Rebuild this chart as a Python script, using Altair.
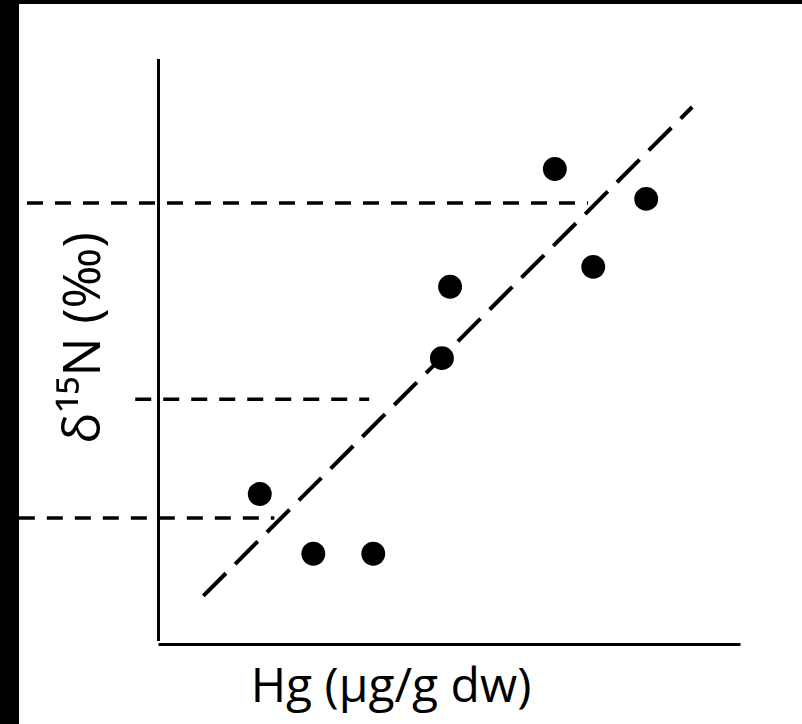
import altair as alt
import pandas as pd

# Data (arbitrary units)
HG = [6.81, 8.38, 7.47, 5.01, 4.87, 1.74, 2.66, 3.69]
D15N = [8.12, 7.61, 6.45, 6.11, 4.89, 2.57, 1.55, 1.55]

# Regression line end points
FIT_X = [0.77, 9.17]
FIT_Y = [0.83, 9.18]

# Horizontal reference dashed lines
REF_Y = [7.54, 4.19, 2.16]
REF_X0 = [-2.26, -0.40, -2.40]
REF_X1 = [7.38, 3.62, 1.99]

# Axis extents
XAXIS = [0.0, 10.0]
YAXIS = [0.06, 10.0]

X_TITLE = "Hg (µg/g dw)"
Y_TITLE = "δ¹⁵N (‰)"

xs = alt.Scale(domain=[-2.397, 11.057], nice=False, zero=False)
ys = alt.Scale(domain=[-1.358, 10.939], nice=False, zero=False)

pts = pd.DataFrame({"hg": HG, "n": D15N})
fit = pd.DataFrame({"x": [FIT_X[0]], "x2": [FIT_X[1]], "y": [FIT_Y[0]], "y2": [FIT_Y[1]]})
refs = pd.DataFrame({"y": REF_Y, "x": REF_X0, "x2": REF_X1})
xax = pd.DataFrame({"x": [XAXIS[0]], "x2": [XAXIS[1]], "y": [0.0]})
yax = pd.DataFrame({"y": [YAXIS[0]], "y2": [YAXIS[1]], "x": [0.0]})

x_axis = alt.Chart(xax).mark_rule(color="black", strokeWidth=3).encode(
    x=alt.X("x:Q", scale=xs, axis=None), x2="x2:Q", y=alt.Y("y:Q", scale=ys, axis=None)
)
y_axis = alt.Chart(yax).mark_rule(color="black", strokeWidth=3).encode(
    x=alt.X("x:Q", scale=xs, axis=None), y=alt.Y("y:Q", scale=ys, axis=None), y2="y2:Q"
)
ref_lines = alt.Chart(refs).mark_rule(color="black", strokeWidth=3.5, strokeDash=[16, 12]).encode(
    x=alt.X("x:Q", scale=xs, axis=None), x2="x2:Q", y=alt.Y("y:Q", scale=ys, axis=None)
)
fit_line = alt.Chart(fit).mark_rule(color="black", strokeWidth=4, strokeDash=[32, 13]).encode(
    x=alt.X("x:Q", scale=xs, axis=None), x2="x2:Q",
    y=alt.Y("y:Q", scale=ys, axis=None), y2="y2:Q"
)
points = alt.Chart(pts).mark_circle(color="black", opacity=1, size=570).encode(
    x=alt.X("hg:Q", scale=xs, axis=None), y=alt.Y("n:Q", scale=ys, axis=None)
)
xt = alt.Chart(pd.DataFrame({"t": [X_TITLE]})).mark_text(
    font="Open Sans", fontSize=48, color="black", align="center", baseline="alphabetic"
).encode(text="t:N", x=alt.value(372), y=alt.value(698))
yt = alt.Chart(pd.DataFrame({"t": [Y_TITLE]})).mark_text(
    font="Open Sans", fontSize=52, color="black", align="center", baseline="alphabetic", angle=270
).encode(text="t:N", x=alt.value(81), y=alt.value(334))

chart = alt.layer(x_axis, y_axis, ref_lines, fit_line, points, xt, yt).properties(
    width=783, height=720,
    padding={"left": 19, "top": 4, "right": 0, "bottom": 0},
    autosize=alt.AutoSizeParams(type="none"),
    background="black",
).configure_view(fill="white", stroke=None)

chart.save("out.html", embed_options={"renderer": "svg", "actions": False})
